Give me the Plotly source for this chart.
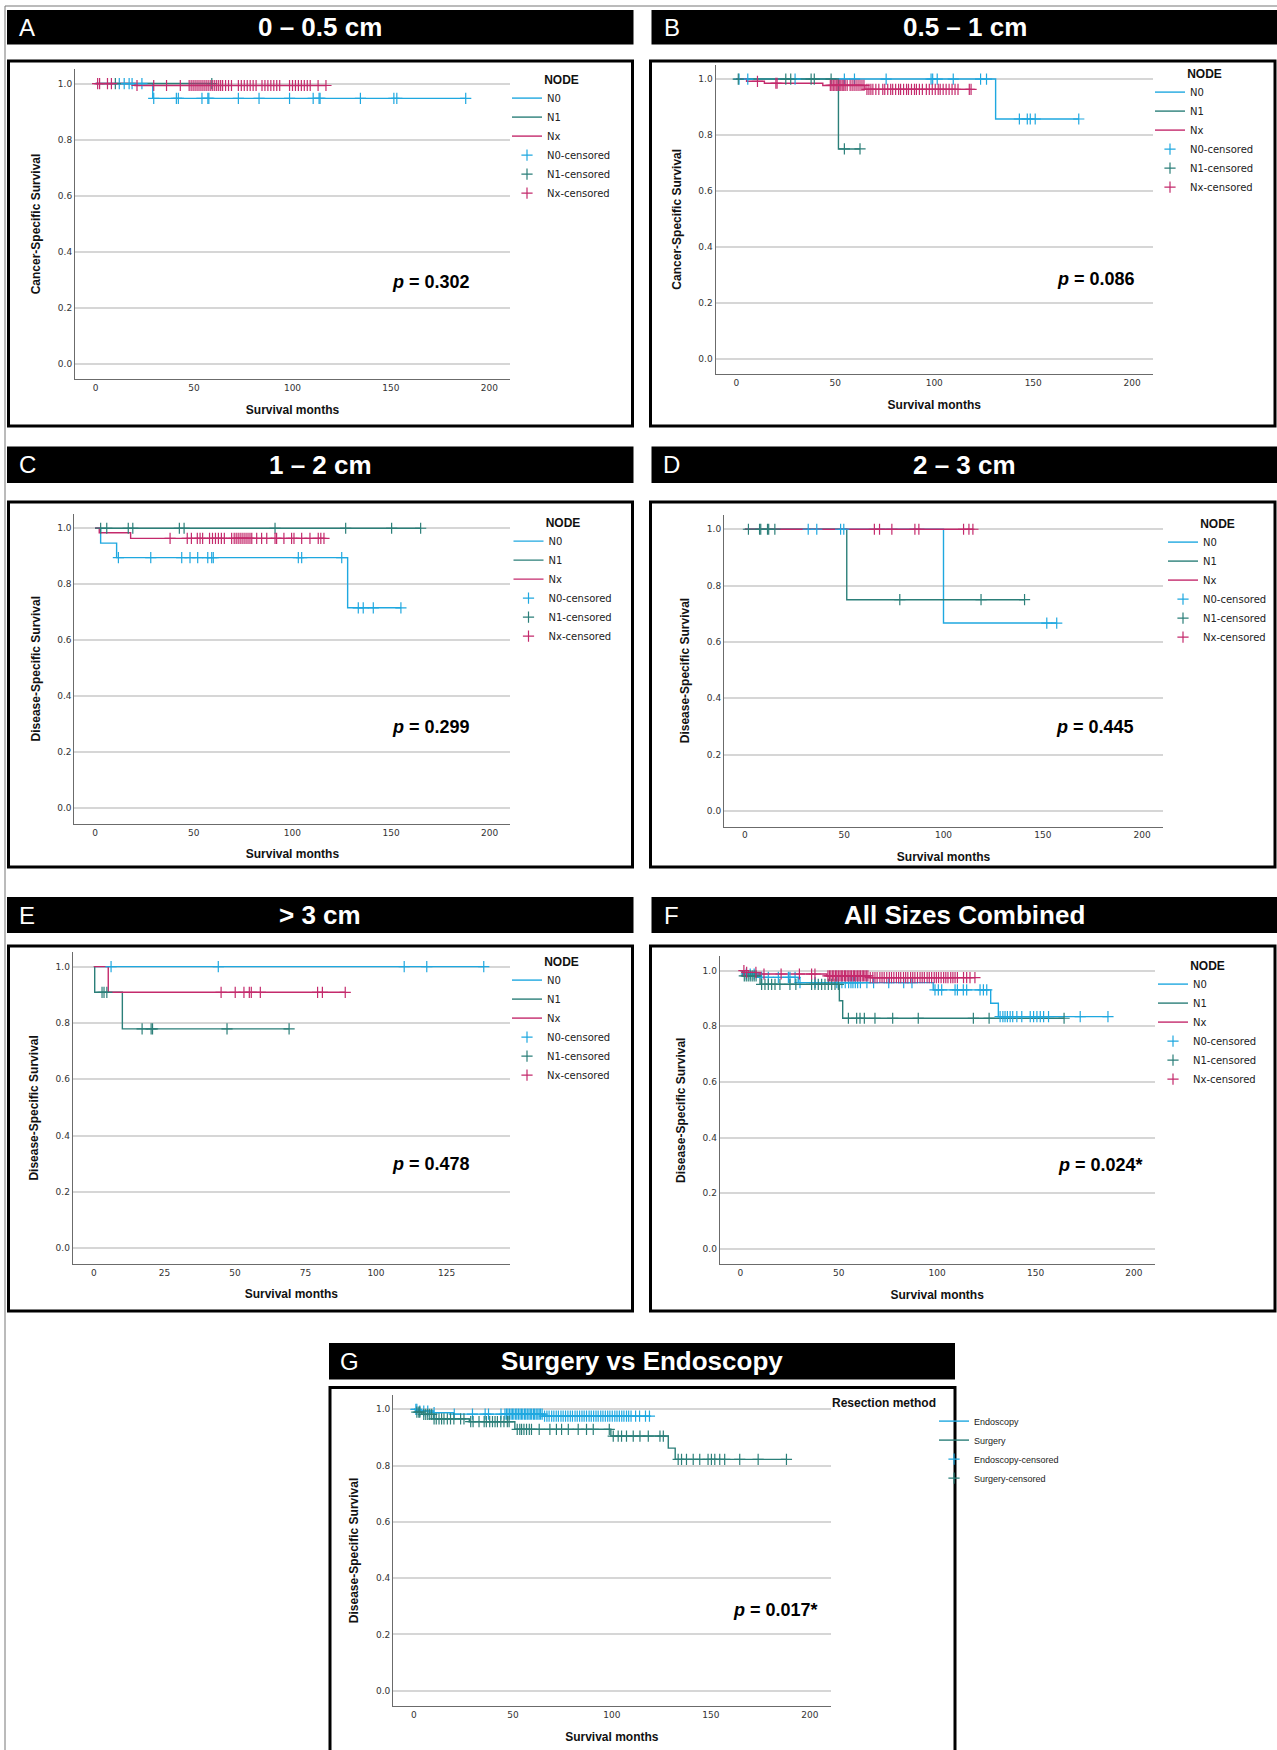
import plotly.graph_objects as go

W, H = 1277, 1750
def X(px): return px / W
def Y(py): return 1 - py / H

COL_N0 = '#1FA8E0'
COL_N1 = '#2B7F79'
COL_NX = '#C42A6C'

# ---------------- DATA ----------------
# Panel A (0 - 0.5 cm)
A_N0_events = [29]
A_N0_surv = [0.947]
A_N0_cens = [12, 14.5, 17, 18.5, 23.5, 29.5, 41, 42, 54, 57, 57.5, 72.5, 83, 98.5, 110.5, 113.5, 114, 134.5, 151.5, 153, 188]
A_N1_events = []
A_N1_surv = []
A_N1_cens = [10, 59]
A_Nx_events = [20]
A_Nx_surv = [0.993]
A_Nx_cens = [1, 2, 6, 8, 21, 29.5, 36, 43, 47.5, 48.5, 49.5, 50.5, 51.5, 52.5, 53.5, 54.5, 55.5, 56.5, 57.5,
             58.5, 59.5, 60.5, 61.5, 62.5, 63.5, 64.5, 66, 67.5, 69, 72.5, 74, 75.5, 77, 78.5, 80, 81.5, 84.5,
             86, 87.5, 89, 90.5, 92, 93.5, 98.5, 100, 101.5, 103, 104.5, 106, 107.5, 109, 113, 117]

# Panel B (0.5 - 1 cm)
B_N0_events = [131]
B_N0_surv = [0.857]
B_N0_cens = [1.4, 5.8, 29.7, 54.6, 59.7, 75.7, 98.4, 99.2, 101.5, 109.6, 123.4, 126.4, 143, 147, 148.5, 151, 173]
B_N1_events = [51.6]
B_N1_surv = [0.75]
B_N1_cens = [1, 25, 27.5, 37.8, 39.4, 47.9, 54.6, 62.5]
B_Nx_events = [5.2, 14.2, 43.7, 65]
B_Nx_surv = [0.992, 0.985, 0.977, 0.963]
B_Nx_cens = [10.7, 20, 20.6, 47.5, 48.3, 49, 49.8, 50.5, 51.3, 52, 52.8, 53.5, 54.3, 55, 56, 57.5, 58.5, 59.5,
             60.5, 61.5, 62.5, 63.5, 64.5, 66, 67, 68, 69, 70.5, 72, 74, 75, 76.5, 78, 79, 80.5, 82, 83, 84.5,
             86, 87, 88.5, 90, 91, 92.5, 94, 96, 97.5, 99, 100.5, 102, 103, 104.5, 106, 107.5, 109, 110.5,
             112, 117.7, 118.6]

# Panel C (1 - 2 cm)
C_N0_events = [2.8, 10.9, 128]
C_N0_surv = [0.947, 0.895, 0.716]
C_N0_cens = [11.8, 28.2, 43.9, 48.1, 52, 57.1, 59.1, 59.9, 103, 104.7, 125, 133.4, 135.9, 141, 155]
C_N1_events = []
C_N1_surv = []
C_N1_cens = [2.8, 5.9, 16.8, 19.1, 42.7, 45.1, 91.2, 127, 150.3, 165]
C_Nx_events = [2.1, 18]
C_Nx_surv = [0.984, 0.964]
C_Nx_cens = [38, 46.7, 48.8, 51.8, 53.2, 54.5, 58, 59.5, 61, 62.5, 64, 65.5, 69.2, 70.5, 71.5, 72.5, 73.5,
             74.5, 75.5, 76.5, 77.5, 78.5, 79.4, 81.9, 84.4, 87, 91.2, 92, 95.7, 99.6, 100.8, 104.7, 108.9,
             113.1, 114.4, 116]

# Panel D (2 - 3 cm)
D_N0_events = [100]
D_N0_surv = [0.667]
D_N0_cens = [31.9, 36.2, 48.2, 49.8, 152, 157]
D_N1_events = [51.3]
D_N1_surv = [0.75]
D_N1_cens = [1.8, 7.4, 8, 11.4, 12, 15.1, 78, 118.9, 140.8]
D_Nx_events = []
D_Nx_surv = []
D_Nx_cens = [65.2, 67.8, 74, 85.6, 87.6, 110.1, 112.8, 114.8]

# Panel E (> 3 cm)
E_N0_events = []
E_N0_surv = []
E_N0_cens = [6.1, 44.1, 110, 118, 138.2]
E_N1_events = [0.3, 10.1]
E_N1_surv = [0.909, 0.779]
E_N1_cens = [2.9, 3.6, 4.6, 17.1, 20.3, 20.8, 47.2, 69.2]
E_Nx_events = [5.1]
E_Nx_surv = [0.909]
E_Nx_cens = [45.1, 50.1, 53.2, 55.1, 55.8, 59, 79.3, 81, 89.1]

# Panel F (all sizes combined)
F_N0_events = [1.5, 10, 29.4, 98, 127.2, 131.1]
F_N0_surv = [0.988, 0.976, 0.957, 0.931, 0.883, 0.835]
F_N0_cens = [3, 5, 7, 10.8, 14.2, 19.3, 24.4, 25.2, 27.8, 30.3, 38, 49, 51.6, 53.3, 55, 56.2, 57.2, 58.4,
             59.6, 61, 64.3, 67.7, 75.4, 83, 87.2, 98.9, 100.6, 102.3, 109.1, 110.3, 113.3, 115, 121.8, 123.5,
             125.2, 132, 133.4, 134.5, 135.7, 137.1, 138.4, 140.5, 143, 147.3, 149, 150.7, 152.4, 154.1,
             156.6, 172.7, 186.8]
F_N1_events = [1, 10, 50.3, 52]
F_N1_surv = [0.981, 0.951, 0.892, 0.829]
F_N1_cens = [2, 3, 4, 5, 6, 7, 8, 10.8, 12.5, 14.2, 15.9, 17.6, 20.1, 25.2, 28.2, 36.2, 37.9, 39.6, 41.3,
             43, 44.7, 46.4, 48.1, 49.8, 54.9, 59.1, 60.8, 63, 68.4, 77.4, 90.4, 118.4, 126.4, 164.5]
F_Nx_events = [2, 8, 44, 66]
F_Nx_surv = [0.994, 0.988, 0.981, 0.975]
F_Nx_cens = [1.8, 3.2, 7.9, 12, 20.7, 30, 36.2, 37.9, 44.5, 45.3, 46, 46.9, 47.5, 48.4, 49, 49.8, 50.6, 51.3,
             52, 52.9, 53.5, 54.3, 55.1, 55.8, 56.5, 57.4, 58, 58.8, 59.6, 60.3, 61, 61.9, 62.5, 63.3, 64,
             64.8, 66, 67.3, 68.4, 69.5, 70.9, 72, 73.1, 74.4, 75.7, 76.8, 78, 79.3, 80.4, 81.5, 82.9, 84,
             85.1, 86.5, 87.6, 88.7, 90, 91.3, 92.4, 93.5, 94.9, 96, 97.2, 98.5, 99.6, 100.7, 102, 103.3,
             104.4, 105.5, 106.9, 108, 109.1, 110.3, 113.4, 115, 116.7, 119.2]

# Panel G (surgery vs endoscopy)
G_En_events = [2, 10, 20, 65]
G_En_surv = [0.994, 0.988, 0.983, 0.976]
G_En_cens = [1, 1.5, 3, 5, 7, 10.2, 20.4, 29.6, 36, 37.7, 44, 46, 46.8, 47.5, 48.3, 49.1, 49.8, 50.5, 51.4,
             52, 52.8, 53.6, 54.3, 55, 55.9, 56.5, 57.3, 58.1, 58.8, 59.5, 60.4, 61, 61.8, 62.6, 63.3, 64,
             64.8, 66, 67.2, 68.3, 69.6, 70.7, 71.9, 73, 74.3, 75.4, 76.6, 77.8, 79, 80.1, 81.4, 82.5, 83.7,
             84.9, 86, 87.2, 88.5, 89.6, 90.8, 92, 93.1, 94.4, 95.5, 96.7, 97.9, 99, 100.2, 101.5, 102.6,
             103.8, 105, 106.1, 107.4, 108.5, 109.7, 112, 114, 117, 119]
G_Su_events = [1, 4, 10, 28, 51, 99.5, 128.5, 132]
G_Su_surv = [0.99, 0.982, 0.966, 0.956, 0.929, 0.905, 0.862, 0.822]
G_Su_cens = [1.5, 2.5, 3, 5, 6, 7, 8, 9, 10.2, 11.3, 12.7, 14, 15.2, 16.9, 18.5, 20.2, 23.6, 25.3, 28.7,
             29.9, 32.9, 35.5, 36.6, 38.3, 39.7, 41, 42.2, 43.9, 45.5, 47.2, 48.1, 52.2, 53.5, 54.4, 55.6,
             56.9, 58.3, 59.4, 63.3, 68.7, 72, 74.6, 78, 83, 87.2, 90.6, 98.7, 100.7, 103.2, 104.9, 107.4,
             110.8, 114.2, 118.4, 124.3, 126, 133.5, 135.2, 137.7, 141.1, 144.4, 148.6, 150.3, 152, 154.5,
             157, 164.6, 173.9, 188.2]

Y_TICKS = [0.0, 0.2, 0.4, 0.6, 0.8, 1.0]
Y_TICKTEXT = ['0.0', '0.2', '0.4', '0.6', '0.8', '1.0']
X_TICKS_200 = [0, 50, 100, 150, 200]
X_TICKS_125 = [0, 25, 50, 75, 100, 125]

# ---------------- PANELS ----------------
panels = [
    dict(letter='A', title='0 – 0.5 cm', ylab='Cancer-Specific Survival', p='<b><i>p</i> = 0.302</b>',
         groups=[('N0', A_N0_events, A_N0_surv, A_N0_cens, COL_N0),
                 ('N1', A_N1_events, A_N1_surv, A_N1_cens, COL_N1),
                 ('Nx', A_Nx_events, A_Nx_surv, A_Nx_cens, COL_NX)],
         legtitle='NODE', xticks=X_TICKS_200, xr=[-10.5, 210.5],
         dom=(75, 510, 69, 379), head=(7, 633.5, 10, 44.5), box=(8.5, 632.5, 61, 426),
         pxy=(431, 282), leg=(507, 68)),
    dict(letter='B', title='0.5 – 1 cm', ylab='Cancer-Specific Survival', p='<b><i>p</i> = 0.086</b>',
         groups=[('N0', B_N0_events, B_N0_surv, B_N0_cens, COL_N0),
                 ('N1', B_N1_events, B_N1_surv, B_N1_cens, COL_N1),
                 ('Nx', B_Nx_events, B_Nx_surv, B_Nx_cens, COL_NX)],
         legtitle='NODE', xticks=X_TICKS_200, xr=[-10.5, 210.5],
         dom=(715.5, 1153, 64.5, 374), head=(651.5, 1278, 10, 44.5), box=(650.5, 1275, 61, 426),
         pxy=(1096, 279), leg=(1150, 62)),
    dict(letter='C', title='1 – 2 cm', ylab='Disease-Specific Survival', p='<b><i>p</i> = 0.299</b>',
         groups=[('N0', C_N0_events, C_N0_surv, C_N0_cens, COL_N0),
                 ('N1', C_N1_events, C_N1_surv, C_N1_cens, COL_N1),
                 ('Nx', C_Nx_events, C_Nx_surv, C_Nx_cens, COL_NX)],
         legtitle='NODE', xticks=X_TICKS_200, xr=[-10.5, 210.5],
         dom=(74.4, 510.4, 513.7, 823.7), head=(7, 633.5, 446.5, 483), box=(8.5, 632.5, 502, 867),
         pxy=(431, 727), leg=(508.5, 511)),
    dict(letter='D', title='2 – 3 cm', ylab='Disease-Specific Survival', p='<b><i>p</i> = 0.445</b>',
         groups=[('N0', D_N0_events, D_N0_surv, D_N0_cens, COL_N0),
                 ('N1', D_N1_events, D_N1_surv, D_N1_cens, COL_N1),
                 ('Nx', D_Nx_events, D_Nx_surv, D_Nx_cens, COL_NX)],
         legtitle='NODE', xticks=X_TICKS_200, xr=[-10.5, 210.5],
         dom=(724, 1163, 514.6, 826.5), head=(651.5, 1278, 446.5, 483), box=(650.5, 1275, 502, 867),
         pxy=(1095, 727), leg=(1163, 512)),
    dict(letter='E', title='> 3 cm', ylab='Disease-Specific Survival', p='<b><i>p</i> = 0.478</b>',
         groups=[('N0', E_N0_events, E_N0_surv, E_N0_cens, COL_N0),
                 ('N1', E_N1_events, E_N1_surv, E_N1_cens, COL_N1),
                 ('Nx', E_Nx_events, E_Nx_surv, E_Nx_cens, COL_NX)],
         legtitle='NODE', xticks=X_TICKS_125, xr=[-7.5, 147.5],
         dom=(72.7, 510, 952, 1263.8), head=(7, 633.5, 897, 933), box=(8.5, 632.5, 946, 1311),
         pxy=(431, 1164), leg=(507, 950)),
    dict(letter='F', title='All Sizes Combined', ylab='Disease-Specific Survival', p='<b><i>p</i> = 0.024*</b>',
         groups=[('N0', F_N0_events, F_N0_surv, F_N0_cens, COL_N0),
                 ('N1', F_N1_events, F_N1_surv, F_N1_cens, COL_N1),
                 ('Nx', F_Nx_events, F_Nx_surv, F_Nx_cens, COL_NX)],
         legtitle='NODE', xticks=X_TICKS_200, xr=[-10.5, 210.5],
         dom=(719.7, 1154.6, 956.2, 1264.3), head=(651.5, 1278, 897, 933), box=(650.5, 1275, 946, 1311),
         pxy=(1100, 1165), leg=(1153, 954)),
    dict(letter='G', title='Surgery vs Endoscopy', ylab='Disease-Specific Survival', p='<b><i>p</i> = 0.017*</b>',
         groups=[('Endoscopy', G_En_events, G_En_surv, G_En_cens, COL_N0),
                 ('Surgery', G_Su_events, G_Su_surv, G_Su_cens, COL_N1)],
         legtitle='Resection method', xticks=X_TICKS_200, xr=[-10.5, 210.5],
         dom=(393.1, 830.6, 1394.7, 1706.2), head=(329, 955, 1343, 1379.5), box=(330, 955, 1387.5, 1760),
         pxy=(775, 1610), leg=(830, 1391)),
]


def step_xy(events, surv, cens):
    end = max(list(cens) + list(events) + [0])
    xs, ys = [0], [1.0]
    for t, s in zip(events, surv):
        xs.append(t)
        ys.append(s)
    xs.append(end)
    ys.append(ys[-1])
    return xs, ys


def surv_at(t, events, surv):
    s = 1.0
    for te, se in zip(events, surv):
        if te <= t:
            s = se
    return s


fig = go.Figure()
shapes, annotations = [], []
layout = {}

TICKFONT = dict(family='DejaVu Sans', size=9, color='#333333')
TITLEFONT = dict(family='Liberation Sans', size=12, color='#111111')

for i, pn in enumerate(panels, start=1):
    sfx = '' if i == 1 else str(i)
    xa, ya = 'x' + sfx, 'y' + sfx
    leg = 'legend' + sfx
    l, r, t, b = pn['dom']

    for name, ev, sv, cs, col in pn['groups']:
        xs, ys = step_xy(ev, sv, cs)
        fig.add_trace(go.Scatter(x=xs, y=ys, mode='lines', name=name,
                                 line=dict(color=col, width=1.4, shape='hv'),
                                 xaxis=xa, yaxis=ya, legend=leg, hoverinfo='skip'))
    for name, ev, sv, cs, col in pn['groups']:
        fig.add_trace(go.Scatter(x=cs, y=[surv_at(c, ev, sv) for c in cs], mode='markers',
                                 name=name + '-censored',
                                 marker=dict(symbol='cross-thin-open', size=8, color=col,
                                             line=dict(color=col, width=1.2)),
                                 xaxis=xa, yaxis=ya, legend=leg))

    layout['xaxis' + sfx] = dict(
        domain=[X(l), X(r)], range=pn['xr'], anchor=ya, tickvals=pn['xticks'],
        showline=True, linecolor='#6b6b6b', linewidth=1, showgrid=False, zeroline=False,
        ticks='', tickfont=TICKFONT, fixedrange=True,
        title=dict(text='<b>Survival months</b>', font=TITLEFONT, standoff=13))
    layout['yaxis' + sfx] = dict(
        domain=[Y(b), Y(t)], range=[-0.055, 1.052], anchor=xa, tickvals=Y_TICKS, ticktext=Y_TICKTEXT,
        showline=True, linecolor='#6b6b6b', linewidth=1, showgrid=True, gridcolor='#d6d6d6',
        gridwidth=1.6, zeroline=False, ticks='', tickfont=TICKFONT, fixedrange=True,
        title=dict(text='<b>' + pn['ylab'] + '</b>', font=TITLEFONT, standoff=14))

    lx, ly = pn['leg']
    is_node = pn['legtitle'] == 'NODE'
    layout[leg] = dict(
        x=X(lx), y=Y(ly), xref='paper', yref='paper', xanchor='left', yanchor='top',
        bgcolor='rgba(0,0,0,0)', borderwidth=0, itemwidth=30, tracegroupgap=0,
        title=dict(text='<b>' + pn['legtitle'] + '</b>', side='top center' if is_node else 'top left',
                   font=dict(family='Liberation Sans', size=12, color='#111111')),
        font=dict(family='DejaVu Sans' if is_node else 'Liberation Sans', size=10 if is_node else 9,
                  color='#222222'))

    hl, hr, ht, hb = pn['head']
    shapes.append(dict(type='rect', xref='paper', yref='paper', x0=X(hl), x1=X(hr), y0=Y(hb), y1=Y(ht),
                       fillcolor='black', line=dict(width=0), layer='above'))
    annotations.append(dict(xref='paper', yref='paper', x=X(hl + 20), y=Y((ht + hb) / 2),
                            text=pn['letter'], showarrow=False, xanchor='center', yanchor='middle',
                            font=dict(family='Liberation Sans', size=24, color='white')))
    annotations.append(dict(xref='paper', yref='paper', x=X((hl + hr) / 2), y=Y((ht + hb) / 2),
                            text='<b>' + pn['title'] + '</b>', showarrow=False,
                            xanchor='center', yanchor='middle',
                            font=dict(family='Liberation Sans', size=26, color='white')))
    bl, br, bt, bb = pn['box']
    shapes.append(dict(type='rect', xref='paper', yref='paper', x0=X(bl), x1=X(br), y0=Y(bb), y1=Y(bt),
                       line=dict(color='black', width=3), fillcolor='rgba(0,0,0,0)', layer='above'))
    px_, py_ = pn['pxy']
    annotations.append(dict(xref='paper', yref='paper', x=X(px_), y=Y(py_), text=pn['p'],
                            showarrow=False, xanchor='center', yanchor='middle',
                            font=dict(family='Liberation Sans', size=18, color='black')))

shapes.append(dict(type='rect', xref='paper', yref='paper', x0=X(5), x1=X(1282), y0=Y(1760), y1=Y(6),
                   line=dict(color='#777777', width=1), fillcolor='rgba(0,0,0,0)', layer='below'))

fig.update_layout(width=W, height=H, autosize=False, margin=dict(l=0, r=0, t=0, b=0, pad=0),
                  paper_bgcolor='white', plot_bgcolor='white', shapes=shapes, annotations=annotations,
                  showlegend=True, **layout)

fig.write_html('out.html', config={'displayModeBar': False},
               post_script="document.body.style.margin='0px';document.body.style.overflow='hidden';")
